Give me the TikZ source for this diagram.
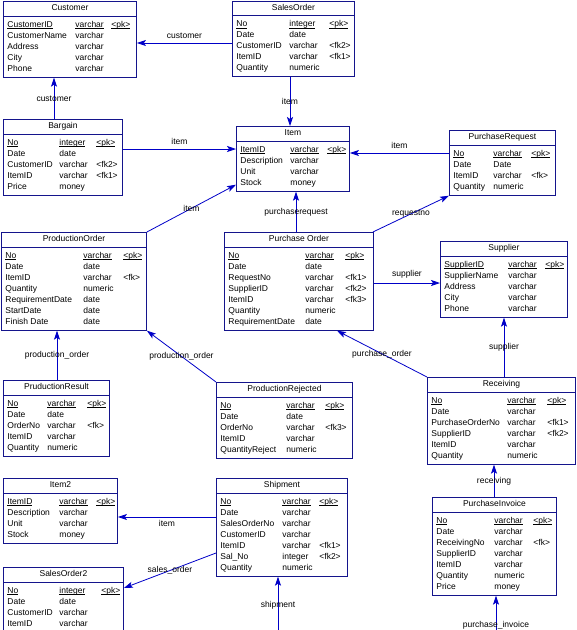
\documentclass[tikz,border=0pt]{standalone}
\usepackage{fontspec}
\setmainfont{Liberation Sans}
\usepackage{array}
\usepackage{tikz}
\usetikzlibrary{positioning,shapes.multipart,arrows.meta}

\definecolor{boxblue}{RGB}{20,20,140}
\definecolor{linkblue}{RGB}{0,0,200}
\setlength{\tabcolsep}{0pt}

% title strut, underline at a fixed depth and field list of one table
\newcommand{\ttl}[1]{\rule[-2.5pt]{0pt}{9pt}#1}
\newcommand{\undl}[1]{\leavevmode\setbox0\hbox{#1}\rlap{\rule[-1.6pt]{\wd0}{0.5pt}}\box0}
\newcommand{\fields}[4]{\begin{tabular}{@{}p{#1pt}p{#2pt}p{#3pt}@{}}#4\end{tabular}}
\newcommand{\pkrow}[3]{\undl{#1} & \undl{#2} & \undl{#3}}

\begin{document}
\begin{tikzpicture}[
    x=1pt, y=-1pt,
    entity/.style={rectangle split, rectangle split parts=2, draw=boxblue, line width=0.9pt,
                   inner xsep=4pt, inner ysep=2.5pt, anchor=north west,
                   font=\fontsize{8.5}{11}\selectfont},   % Style for the tables
    lbl/.style={font=\fontsize{8.5}{10}\selectfont, inner sep=1pt},  % Style for the link names
    link/.style={draw=linkblue, line width=0.8pt, ->},  % Style for the references
    >={Stealth[length=9pt,width=6pt,inset=2pt]}          % Arrowhead style
    ]
    \useasboundingbox (0,0) rectangle (577,630);
    \clip (0,0) rectangle (577,630);

    % Define the tables of the top rows
    \node[entity] (customer) at (3,1) {\ttl{Customer}
      \nodepart{second}\fields{68}{36}{21}{\pkrow{CustomerID}{varchar}{<pk>}\\
        CustomerName & varchar & \\ Address & varchar & \\ City & varchar & \\ Phone & varchar &}};
    \node[entity] (salesorder) at (232,0.5) {\ttl{SalesOrder}
      \nodepart{second}\fields{53}{40}{21}{\pkrow{No}{integer}{<pk>}\\
        Date & date & \\ CustomerID & varchar & <fk2>\\ ItemID & varchar & <fk1>\\ Quantity & numeric &}};
    \node[entity] (bargain) at (3,119) {\ttl{Bargain}
      \nodepart{second}\fields{52}{37}{22}{\pkrow{No}{integer}{<pk>}\\
        Date & date & \\ CustomerID & varchar & <fk2>\\ ItemID & varchar & <fk1>\\ Price & money &}};
    \node[entity] (item) at (236,126) {\ttl{Item}
      \nodepart{second}\fields{50}{37}{18}{\pkrow{ItemID}{varchar}{<pk>}\\
        Description & varchar & \\ Unit & varchar & \\ Stock & money &}};
    \node[entity] (purchaserequest) at (449,130) {\ttl{PurchaseRequest}
      \nodepart{second}\fields{40}{38}{20}{\pkrow{No}{varchar}{<pk>}\\
        Date & Date & \\ ItemID & varchar & <fk>\\ Quantity & numeric &}};

    % Define the tables of the middle rows
    \node[entity] (productionorder) at (1,232) {\ttl{ProductionOrder}
      \nodepart{second}\fields{78}{40}{19}{\pkrow{No}{varchar}{<pk>}\\
        Date & date & \\ ItemID & varchar & <fk>\\ Quantity & numeric & \\
        RequirementDate & date & \\ StartDate & date & \\ Finish Date & date &}};
    \node[entity] (purchaseorder) at (224,232) {\ttl{Purchase Order}
      \nodepart{second}\fields{77}{40}{24}{\pkrow{No}{varchar}{<pk>}\\
        Date & date & \\ RequestNo & varchar & <fk1>\\ SupplierID & varchar & <fk2>\\
        ItemID & varchar & <fk3>\\ Quantity & numeric & \\ RequirementDate & date &}};
    \node[entity] (supplier) at (440,241) {\ttl{Supplier}
      \nodepart{second}\fields{64}{37}{18}{\pkrow{SupplierID}{varchar}{<pk>}\\
        SupplierName & varchar & \\ Address & varchar & \\ City & varchar & \\ Phone & varchar &}};
    \node[entity] (productionresult) at (3,380) {\ttl{PruductionResult}
      \nodepart{second}\fields{40}{40}{18}{\pkrow{No}{varchar}{<pk>}\\
        Date & date & \\ OrderNo & varchar & <fk>\\ ItemID & varchar & \\ Quantity & numeric &}};
    \node[entity] (productionrejected) at (216,382) {\ttl{ProductionRejected}
      \nodepart{second}\fields{66}{39}{23}{\pkrow{No}{varchar}{<pk>}\\
        Date & date & \\ OrderNo & varchar & <fk3>\\ ItemID & varchar & \\ QuantityReject & numeric &}};
    \node[entity] (receiving) at (427,377) {\ttl{Receiving}
      \nodepart{second}\fields{76}{40}{24}{\pkrow{No}{varchar}{<pk>}\\
        Date & varchar & \\ PurchaseOrderNo & varchar & <fk1>\\ SupplierID & varchar & <fk2>\\
        ItemID & varchar & \\ Quantity & numeric &}};

    % Define the tables of the bottom rows
    \node[entity] (item2) at (3,478) {\ttl{Item2}
      \nodepart{second}\fields{52}{37}{17}{\pkrow{ItemID}{varchar}{<pk>}\\
        Description & varchar & \\ Unit & varchar & \\ Stock & money &}};
    \node[entity] (shipment) at (216,478) {\ttl{Shipment}
      \nodepart{second}\fields{62}{37}{24}{\pkrow{No}{varchar}{<pk>}\\
        Date & varchar & \\ SalesOrderNo & varchar & \\ CustomerID & varchar & \\
        ItemID & varchar & <fk1>\\ Sal\_No & integer & <fk2>\\ Quantity & numeric &}};
    \node[entity] (purchaseinvoice) at (432,497) {\ttl{PurchaseInvoice}
      \nodepart{second}\fields{58}{39}{19}{\pkrow{No}{varchar}{<pk>}\\
        Date & varchar & \\ ReceivingNo & varchar & <fk>\\ SupplierID & varchar & \\
        ItemID & varchar & \\ Quantity & numeric & \\ Price & money &}};
    \node[entity] (salesorder2) at (3,567) {\ttl{SalesOrder2}
      \nodepart{second}\fields{52}{42}{18}{\pkrow{No}{integer}{<pk>}\\
        Date & date & \\ CustomerID & varchar & \\ ItemID & varchar & \\ Quantity & numeric &}};

    % Free ends of the references leaving the page
    \coordinate (invoiceend) at (496,654);
    \coordinate (shipmentend) at (278,633);

    % References, arrow at the referenced table
    \draw[link] ([yshift=-42.5pt]salesorder.north west) -- ([yshift=-42pt]customer.north east)
      node[lbl, midway, above=3pt] {customer};
    \draw[link] ([xshift=51pt]bargain.north west) -- ([xshift=51pt]customer.south west)
      node[lbl, midway] {customer};
    \draw[link] ([xshift=58pt]salesorder.south west) -- ([xshift=54pt]item.north west)
      node[lbl, midway] {item};
    \draw[link] ([yshift=-30pt]bargain.north east) -- ([yshift=-23pt]item.north west)
      node[lbl, midway, above=3pt] {item};
    \draw[link] (productionorder.north east) -- ([yshift=7pt]item.south west)
      node[lbl, midway] {item};
    \draw[link] ([yshift=-23pt]purchaserequest.north west) -- ([yshift=-27pt]item.north east)
      node[lbl, midway, above=3pt] {item};
    \draw[link] ([xshift=72pt]purchaseorder.north west) -- ([xshift=60pt]item.south west)
      node[lbl, midway] {purchaserequest};
    \draw[link] ([xshift=-1pt]purchaseorder.north east) -- (purchaserequest.south west)
      node[lbl, midway] {requestno};
    \draw[link] ([xshift=54pt]productionresult.north west) -- ([xshift=56pt]productionorder.south west)
      node[lbl, midway] {production\_order};
    \draw[link] (productionrejected.north west) -- (productionorder.south east)
      node[lbl, midway] {production\_order};
    \draw[link] ([yshift=-51pt]purchaseorder.north east) -- ([yshift=-42pt]supplier.north west)
      node[lbl, midway, above=3pt] {supplier};
    \draw[link] (receiving.north west) -- ([xshift=113pt]purchaseorder.south west)
      node[lbl, midway] {purchase\_order};
    \draw[link] ([xshift=77pt]receiving.north west) -- ([xshift=64pt]supplier.south west)
      node[lbl, midway] {supplier};
    \draw[link] ([xshift=62pt]purchaseinvoice.north west) -- ([xshift=67pt]receiving.south west)
      node[lbl, midway] {receiving};
    \draw[link] (invoiceend) -- ([xshift=64pt]purchaseinvoice.south west)
      node[lbl, midway] {purchase\_invoice};
    \draw[link] ([yshift=-39pt]shipment.north west) -- ([yshift=-39pt]item2.north east)
      node[lbl, midway, below=2pt] {item};
    \draw[link] ([yshift=-75pt]shipment.north west) -- ([yshift=-21pt]salesorder2.north east)
      node[lbl, midway] {sales\_order};
    \draw[link] (shipmentend) -- ([xshift=62pt]shipment.south west)
      node[lbl, midway] {shipment};

\end{tikzpicture}
\end{document}
